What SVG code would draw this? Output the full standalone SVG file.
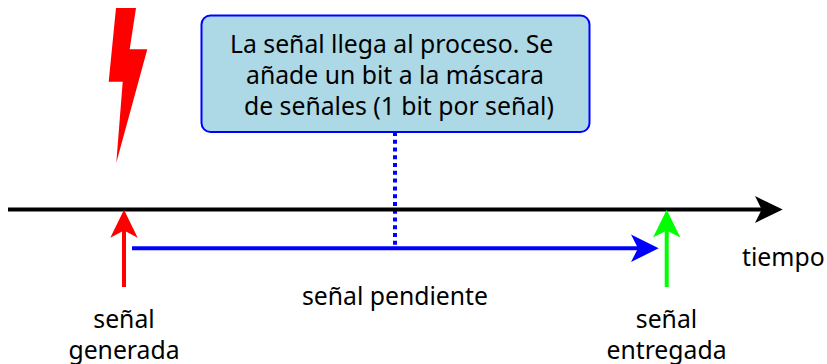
<svg xmlns="http://www.w3.org/2000/svg" width="827" height="364" viewBox="0 0 827 364">
<style>
text{font-family:"Noto Sans","Open Sans",sans-serif;font-size:24.75px;fill:#000}
.m{text-anchor:middle}
.ln{fill:none;stroke-width:4}
</style>
<rect width="827" height="364" fill="#fff"/>
<g id="connectors">
<path class="ln" stroke="#00f" stroke-dasharray="4 3.77" d="M395 132V246"/>
<path class="ln" stroke="#000" d="M8 209.5H765"/>
<polygon points="782.7,209.5 755,196 761.7,209.5 755,223"/>
<path class="ln" stroke="#00f" d="M132 248.3H641"/>
<polygon fill="#00f" points="658.7,248.3 631,234.5 638,248.3 631,262"/>
<path class="ln" stroke="#f00" d="M124 287V230"/>
<polygon fill="#f00" points="124,209.7 110.3,237.7 124,230.5 137.7,237.7"/>
<path class="ln" stroke="#0f0" d="M666.7 287V230"/>
<polygon fill="#0f0" points="666.7,209.7 653,237.5 666.7,230.5 680.4,237.5"/>
</g>
<g id="rayo"><polygon fill="#f00" points="116,8 136,8 129.7,49.3 147.3,49.3 116.3,162.7 122.7,81.7 108.7,81.7"/></g>
<g id="proceso">
<rect x="201.5" y="15.5" width="388" height="116.5" rx="9" fill="#add8e6" stroke="#00f" stroke-width="2"/>
<text x="230" y="52.5">La señal llega al proceso. Se</text>
<text x="246" y="83.5">añade un bit a la máscara</text>
<text x="244" y="114.5">de señales (1 bit por señal)</text>
</g>
<g id="etiquetas">
<text x="742" y="266">tiempo</text>
<text class="m" x="395" y="305">señal pendiente</text>
<g id="generada"><text class="m" x="124" y="327.5">señal</text><text class="m" x="124" y="358.5">generada</text></g>
<g id="entregada"><text class="m" x="666.5" y="327.5">señal</text><text class="m" x="666.5" y="358.5">entregada</text></g>
</g>
</svg>
